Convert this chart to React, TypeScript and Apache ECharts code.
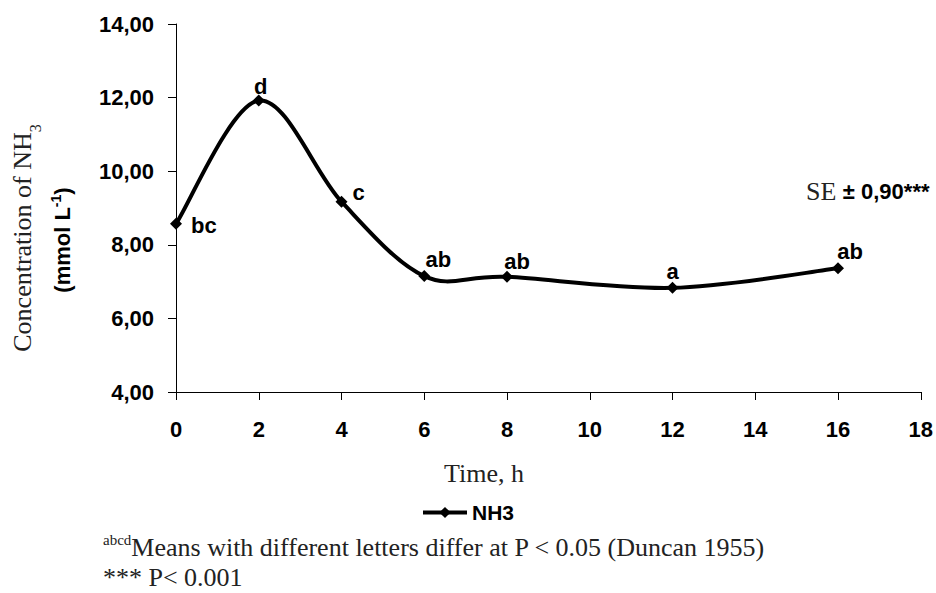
import React, { useEffect, useRef } from "react";
import * as echarts from "echarts";

const hours = [0, 2, 4, 6, 8, 12, 16];
const nh3 = [8.57, 11.92, 9.17, 7.15, 7.13, 6.83, 7.36];
const letters = ["bc", "d", "c", "ab", "ab", "a", "ab"];
const seriesName = "NH3";
const yTicks = { min: 4, max: 14, interval: 2 };
const xTicks = { min: 0, max: 18, interval: 2 };

// label placement per point (style, not data)
const labelPlacement: any[] = [
  { position: "right", distance: 9, offset: [0, 2] },
  { position: "top", distance: 0, offset: [2, 2.5] },
  { position: "right", distance: 5, offset: [0, -9] },
  { position: "top", distance: 0, offset: [14, 0] },
  { position: "top", distance: 0, offset: [10, 1.5] },
  { position: "top", distance: 0, offset: [0, 0.5] },
  { position: "top", distance: 0, offset: [12, 0] },
];

const SERIF = "'Liberation Serif', 'Times New Roman', serif";
const SANS = "'Liberation Sans', Arial, sans-serif";

// Excel-like smoothed curve (Catmull-Rom style bezier) drawn through axis coords
function renderSmoothCurve(params: any, api: any) {
  if (params.dataIndex !== 0) return { type: "group", children: [] };
  const pts = hours.map((h, k) => api.coord([h, nh3[k]]));
  const n = pts.length;
  let d = `M${pts[0][0]},${pts[0][1]}`;
  for (let i = 0; i < n - 1; i++) {
    const p0 = pts[i - 1] || pts[i];
    const p1 = pts[i];
    const p2 = pts[i + 1];
    const p3 = pts[i + 2] || pts[i + 1];
    const c1x = p1[0] + (p2[0] - p0[0]) / 6;
    const c1y = p1[1] + (p2[1] - p0[1]) / 6;
    const c2x = p2[0] - (p3[0] - p1[0]) / 6;
    const c2y = p2[1] - (p3[1] - p1[1]) / 6;
    d += ` C${c1x},${c1y} ${c2x},${c2y} ${p2[0]},${p2[1]}`;
  }
  return {
    type: "path",
    shape: { pathData: d },
    style: { fill: "none", stroke: "#000", lineWidth: 4, lineJoin: "round", lineCap: "round" },
  };
}

export default function App() {
  const ref = useRef<HTMLDivElement>(null);
  useEffect(() => {
    if (!ref.current) return;
    const chart = echarts.init(ref.current, undefined, { renderer: "svg" });
    const data = hours.map((h, i) => ({
      value: [h, nh3[i]],
      label: { show: true, formatter: letters[i], ...labelPlacement[i] },
    }));
    chart.setOption({
      animation: false,
      backgroundColor: "#ffffff",
      grid: { left: 176, right: 14, top: 24, bottom: 201, containLabel: false },
      legend: {
        data: [seriesName],
        left: 421,
        top: 502,
        padding: 0,
        itemWidth: 44,
        itemHeight: 14,
        lineStyle: { color: "#000", width: 4, opacity: 1 },
        textStyle: { fontFamily: SANS, fontWeight: "bold", fontSize: 21, color: "#000" },
      },
      xAxis: {
        type: "value",
        min: xTicks.min,
        max: xTicks.max,
        interval: xTicks.interval,
        splitLine: { show: false },
        axisLine: { show: true, onZero: false, lineStyle: { color: "#000", width: 1 } },
        axisTick: { show: true, length: 8, lineStyle: { color: "#000" } },
        axisLabel: {
          margin: 26,
          fontFamily: SANS,
          fontWeight: "bold",
          fontSize: 22,
          color: "#000",
        },
      },
      yAxis: {
        type: "value",
        min: yTicks.min,
        max: yTicks.max,
        interval: yTicks.interval,
        splitLine: { show: false },
        axisLine: { show: true, onZero: false, lineStyle: { color: "#000", width: 1 } },
        axisTick: { show: true, length: 8, lineStyle: { color: "#000" } },
        axisLabel: {
          margin: 22,
          fontFamily: SANS,
          fontWeight: "bold",
          fontSize: 22,
          color: "#000",
          formatter: (v: number) => v.toFixed(2).replace(".", ","),
        },
      },
      series: [
        {
          type: "custom",
          coordinateSystem: "cartesian2d",
          data: hours.map((h, i) => [h, nh3[i]]),
          renderItem: renderSmoothCurve,
          silent: true,
          z: 1,
        },
        {
          name: seriesName,
          type: "line",
          data,
          symbol: "diamond",
          symbolSize: 12,
          z: 3,
          itemStyle: { color: "#000" },
          lineStyle: { color: "#000", width: 4, opacity: 0 },
          label: {
            fontFamily: SANS,
            fontWeight: "bold",
            fontSize: 22,
            color: "#000",
          },
        },
      ],
      graphic: [
        {
          type: "text",
          x: 22,
          y: 238,
          rotation: Math.PI / 2,
          style: {
            text: "Concentration of NH{sub|3}",
            fontFamily: SERIF,
            fontSize: 26,
            fill: "#222",
            align: "center",
            verticalAlign: "middle",
            rich: {
              sub: { fontFamily: SERIF, fontSize: 16, fill: "#222", verticalAlign: "bottom", lineHeight: 30, padding: [0, 0, -6, 0] },
            },
          },
        },
        {
          type: "text",
          x: 62,
          y: 240,
          rotation: Math.PI / 2,
          style: {
            text: "(mmol L{sup|-1})",
            fontFamily: SANS,
            fontWeight: "bold",
            fontSize: 22,
            fill: "#000",
            align: "center",
            verticalAlign: "middle",
            rich: {
              sup: { fontFamily: SANS, fontWeight: "bold", fontSize: 14, fill: "#000", verticalAlign: "top", lineHeight: 26 },
            },
          },
        },
        {
          type: "text",
          x: 806,
          y: 191,
          style: {
            text: "{s|SE }{b|± 0,90***}",
            align: "left",
            verticalAlign: "middle",
            rich: {
              s: { fontFamily: SERIF, fontSize: 26, fill: "#222" },
              b: { fontFamily: SANS, fontWeight: "bold", fontSize: 22, fill: "#000" },
            },
          },
        },
        {
          type: "text",
          x: 484,
          y: 473,
          style: {
            text: "Time, h",
            fontFamily: SERIF,
            fontSize: 26,
            fill: "#222",
            align: "center",
            verticalAlign: "middle",
          },
        },
        {
          type: "text",
          x: 103,
          y: 547,
          style: {
            text: "{sup|abcd}{t|Means with different letters differ at P < 0.05 (Duncan 1955)}",
            align: "left",
            verticalAlign: "middle",
            rich: {
              sup: { fontFamily: SERIF, fontSize: 15, fill: "#222", verticalAlign: "top", lineHeight: 30 },
              t: { fontFamily: SERIF, fontSize: 26, fill: "#222", lineHeight: 30 },
            },
          },
        },
        {
          type: "text",
          x: 103,
          y: 577,
          style: {
            text: "*** P< 0.001",
            fontFamily: SERIF,
            fontSize: 26,
            fill: "#222",
            align: "left",
            verticalAlign: "middle",
          },
        },
      ],
    });
    return () => chart.dispose();
  }, []);
  return (
    <div
      ref={ref}
      style={{ position: "fixed", left: 0, top: 0, width: 936, height: 593, background: "#fff" }}
    />
  );
}
